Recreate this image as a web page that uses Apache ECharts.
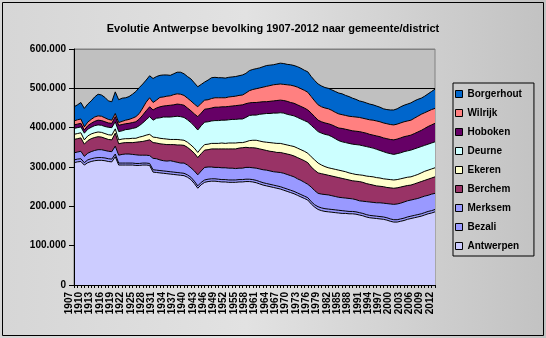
<!DOCTYPE html>
<html><head><meta charset="utf-8">
<script src="https://cdn.jsdelivr.net/npm/echarts@6/dist/echarts.min.js"></script>
<style>html,body{margin:0;padding:0;background:#fff}#c{width:546px;height:338px}</style>
</head><body><div id="c"></div>
<script>
// Categories (years)
const years = ['1907','1908','1909','1910','1911','1912','1913','1914','1915','1916',
'1917','1918','1919','1920','1921','1922','1923','1924','1925','1926',
'1927','1928','1929','1930','1931','1932','1933','1934','1935','1936',
'1937','1938','1939','1940','1941','1942','1943','1944','1945','1946',
'1947','1948','1949','1950','1951','1952','1953','1954','1955','1956',
'1957','1958','1959','1960','1961','1962','1963','1964','1965','1966',
'1967','1968','1969','1970','1971','1972','1973','1974','1975','1976',
'1977','1978','1979','1980','1981','1982','1983','1984','1985','1986',
'1987','1988','1989','1990','1991','1992','1993','1994','1995','1996',
'1997','1998','1999','2000','2001','2002','2003','2004','2005','2006',
'2007','2008','2009','2010','2011','2012'];

// Population per district, in thousands of inhabitants
const antwerpen = [311,313,314,305,311,314,316,317,317,316, 314,313,326,305,305,305,305,305,304,304,
305,305,304,287,286,285,284,283,282,281, 280,279,278,274,268,258,246,255,261,263,
264,264,263,262,262,261,261,261,262,262, 263,263,262,260,257,254,252,250,248,246,
244,241,238,235,232,228,224,220,216,206, 198,192,189,187,186,185,184,183,182,182,
181,181,180,178,176,173,171,170,169,168, 167,165,162,160,160,162,164,167,169,171,
173,175,178,181,183,186];
const bezali = [7,7,7,6,7,7,7,7,7,7, 7,7,7,5,5,5,5,5,5,5,
5,5,5,6,6,6,6,6,6,6, 6,6,6,6,6,6,6,6,6,6,
6,6,6,6,6,6,6,6,6,6, 6,6,6,6,6,6,6,6,6,6,
6,6,6,6,6,6,6,6,6,6, 6,7,7,7,7,7,7,7,7,6,
6,6,6,6,6,6,6,6,6,6, 6,6,6,6,6,6,6,6,6,6,
6,6,6,6,6,6];
const merksem = [18,18,19,16,17,18,19,20,20,19, 19,19,20,20,22,23,23,22,22,21,
20,20,20,29,29,27,26,26,28,27, 26,25,26,25,24,26,28,29,32,31,
30,29,30,30,30,30,30,29,29,29, 30,30,30,31,32,33,34,34,34,35,
36,37,37,37,37,36,36,35,34,37, 36,34,35,36,36,35,34,33,33,33,
33,32,31,30,31,33,34,34,34,35, 35,36,38,39,40,40,41,41,41,41,
41,42,42,41,42,41];
const berchem = [34,34,34,31,32,33,33,33,32,31, 30,30,33,29,29,29,29,30,32,34,
35,37,40,40,40,41,42,42,41,43, 44,46,45,45,45,45,44,44,44,44,
46,47,47,48,48,49,49,50,51,52, 51,50,51,51,51,51,50,50,51,50,
51,51,52,53,53,54,54,55,55,51, 52,52,52,51,50,50,50,50,49,48,
47,46,47,49,48,46,45,44,43,42, 42,41,41,41,41,41,40,39,38,39,
40,40,40,41,41,42];
const ekeren = [13,13,13,11,12,12,12,12,12,12, 12,12,11,10,10,10,10,11,10,12,
13,14,14,14,14,14,14,14,13,13, 14,13,13,13,13,13,13,14,14,14,
14,14,14,15,14,15,15,15,14,13, 14,18,19,20,20,20,21,22,22,23,
23,23,23,23,24,24,24,24,24,26, 26,25,22,20,19,19,19,19,19,19,
18,18,17,17,18,19,20,21,21,21, 20,21,21,21,21,21,21,21,21,21,
21,22,23,23,23,23];
const deurne = [15,15,15,17,17,17,18,18,18,18, 19,19,18,21,21,23,24,25,27,29,
34,39,45,43,49,52,55,56,57,58, 59,59,58,57,57,56,57,57,57,57,
57,58,58,58,59,59,60,60,60,60, 62,64,64,64,68,71,73,74,76,77,
78,79,78,78,78,78,78,78,79,80, 80,80,81,82,83,81,78,75,74,74,
75,75,76,76,75,75,74,73,72,70, 69,67,66,65,66,66,67,67,68,68,
68,67,66,66,66,66];
const hoboken = [9,9,9,8,9,10,11,12,12,12, 11,11,13,16,16,15,15,15,15,17,
20,23,25,26,26,28,28,29,30,30, 31,31,31,30,30,31,34,32,33,33,
33,34,34,34,34,34,34,35,35,36, 35,32,32,32,31,31,30,31,31,32,
32,32,33,32,32,32,32,32,31,31, 30,29,29,29,29,30,31,32,34,34,
34,34,34,34,34,34,33,33,34,35, 35,36,36,37,37,38,38,38,38,39,
40,41,43,45,46,47];
const wilrijk = [10,11,11,8,9,10,11,11,11,10, 9,8,8,7,8,9,10,11,13,14,
18,22,23,19,20,24,23,24,24,26, 26,26,25,25,25,25,25,25,23,23,
24,24,24,23,23,24,24,24,25,25, 27,31,33,35,36,37,39,40,41,41,
41,41,42,44,44,45,45,45,45,42, 40,39,38,38,38,37,36,36,35,35,
35,36,36,36,36,36,37,38,38,38, 38,38,38,38,38,38,38,38,38,39,
40,41,40,39,39,38];
const borgerhout = [36,38,42,47,46,47,51,55,54,52, 47,47,55,58,59,57,58,61,64,66,
61,56,56,61,60,56,56,54,52,53, 55,56,55,55,56,54,51,48,46,50,
53,52,51,51,50,50,50,50,50,51, 50,51,51,51,51,52,53,52,51,52,
53,53,52,52,52,52,52,51,52,51, 52,53,53,52,52,52,53,53,53,51,
50,47,45,42,42,41,40,39,38,37, 36,36,37,38,39,41,42,43,44,44,
43,41,42,44,46,49];

const seriesNames = ['Antwerpen','Bezali','Merksem','Berchem','Ekeren','Deurne','Hoboken','Wilrijk','Borgerhout'];
const seriesColors = ['#CCCCFF','#9999FF','#9999FF','#993366','#FFFFCC','#CCFFFF','#660066','#FF8080','#0066CC'];
const seriesData = [antwerpen,bezali,merksem,berchem,ekeren,deurne,hoboken,wilrijk,borgerhout];
const yMax = 600, yStep = 100; // thousands

const FONT = "'Liberation Sans', Arial, sans-serif";
const chart = echarts.init(document.getElementById('c'), null, {renderer:'canvas'});
const fmt = v => v === 0 ? '0' : v + '.000';

chart.setOption({
  animation:false,
  backgroundColor: new echarts.graphic.LinearGradient(0,0,1,0,[
    {offset:0,color:'#d6d6d6'},{offset:0.45,color:'#e2e2e2'},{offset:1,color:'#c2c2c2'}]),
  title:{text:'Evolutie Antwerpse bevolking 1907-2012 naar gemeente/district',left:'center',top:18,
    textStyle:{fontFamily:FONT,fontSize:11,fontWeight:'bold',color:'#000'}},
  graphic:[{type:'rect',shape:{x:2.5,y:2.5,width:541,height:333},style:{fill:null,stroke:'#000',lineWidth:1},z:100}],
  legend:{orient:'vertical',left:453,top:83,data:seriesNames.slice().reverse(),
    icon:'rect',itemWidth:7,itemHeight:7,itemGap:7,padding:[5,12,4,2],
    borderColor:'#000',borderWidth:1,
    itemStyle:{borderColor:'#000',borderWidth:1},
    textStyle:{fontFamily:FONT,fontSize:10,fontWeight:'bold',color:'#000',lineHeight:12}},
  grid:{left:74,right:111,top:49,bottom:53,show:true,backgroundColor:'#C0C0C0',borderColor:'#808080',borderWidth:1},
  xAxis:{type:'category',data:years,boundaryGap:false,z:20,
    axisLine:{lineStyle:{color:'#000',width:1}},
    axisTick:{show:true,interval:0,length:3,lineStyle:{color:'#000'}},
    axisLabel:{interval:2,rotate:90,margin:7,fontFamily:FONT,fontSize:10,fontWeight:'bold',color:'#000',verticalAlign:'bottom'},
    splitLine:{show:false}},
  yAxis:[{type:'value',min:0,max:yMax,interval:yStep,z:20,
    axisLine:{show:true,lineStyle:{color:'#000',width:1}},
    axisTick:{show:true,length:5,lineStyle:{color:'#000'}},
    axisLabel:{formatter:fmt,margin:8,fontFamily:FONT,fontSize:10,fontWeight:'bold',color:'#000'},
    splitLine:{show:false}},
   {type:'value',min:0,max:yMax,interval:yStep,z:1,position:'left',
    axisLine:{show:false},axisTick:{show:false},axisLabel:{show:false},
    splitLine:{show:true,lineStyle:{color:['#000','#000','#000','#000','#000','#000','#808080'],width:1}}}],
  series: seriesNames.map((n,i)=>({
    name:n,type:'line',stack:'total',data:seriesData[i],yAxisIndex:0,
    symbol:'none',showSymbol:false,z:3+(seriesNames.length-i),
    lineStyle:{color:'#000',width:1},
    itemStyle:{color:seriesColors[i]},
    areaStyle:{color:seriesColors[i],opacity:1},
    emphasis:{disabled:true}
  }))
});
</script></body></html>
